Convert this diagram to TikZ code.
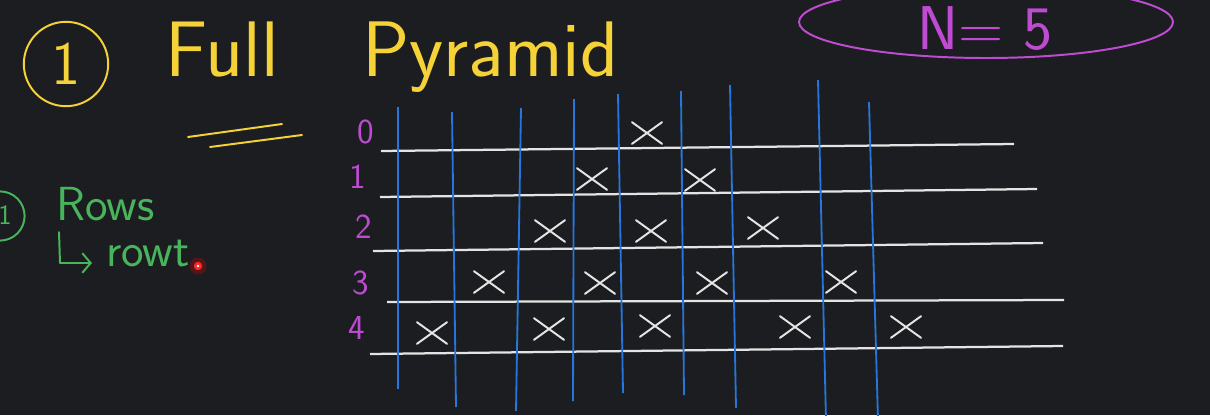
\documentclass[tikz,border=0pt]{standalone}
\usepackage{tikz}
\usetikzlibrary{arrows.meta,shapes.geometric,shapes.misc}

\definecolor{board}{RGB}{28,29,32}
\definecolor{chalkyellow}{RGB}{245,210,55}
\definecolor{chalkpurple}{RGB}{190,75,210}
\definecolor{chalkgreen}{RGB}{72,180,92}
\definecolor{chalkblue}{RGB}{38,118,222}
\definecolor{chalkwhite}{RGB}{228,228,228}

\tikzset{
  ink/.style={line width=1.4pt,line cap=round,line join=round},
  title/.style={text=chalkyellow,font=\sffamily\fontsize{56}{60}\selectfont,inner sep=0pt,anchor=base west},
  rowlabel/.style={text=chalkpurple,font=\sffamily\fontsize{25}{27}\selectfont,inner sep=0pt},
  note/.style={text=chalkgreen,font=\sffamily\fontsize{34}{38}\selectfont,inner sep=0pt,anchor=base west},
  crossmark/.style={cross out,draw=chalkwhite,ink,minimum width=20pt,minimum height=14pt,inner sep=0pt},
  rule/.style={draw=chalkwhite,line width=1.6pt},
  column/.style={draw=chalkblue,line width=1.3pt},
}

\begin{document}
\begin{tikzpicture}[x=0.025cm,y=-0.025cm]
  \path[use as bounding box,fill=board] (0,0) rectangle (1210,415);
  \node[draw=chalkyellow,ink,circle,minimum size=60pt,inner sep=0pt,text=chalkyellow,
        font=\sffamily\fontsize{44}{48}\selectfont] (titlenum) at (66,64) {1};
  \node[title] (full) at (165,76) {Full};
  \node[title] (pyramid) at (362,76) {Pyramid};
  \draw[chalkyellow,ink] (188,137) -- (282,124);
  \draw[chalkyellow,ink] (210,147) -- (302,135);
  \draw[chalkpurple,ink] (986,22) ellipse [x radius=187,y radius=36];
  \node[text=chalkpurple,font=\sffamily\fontsize{44}{48}\selectfont,inner sep=0pt] (count) at (985,29) {N= 5};
  \foreach \r/\px/\py in {0/366/132,1/358/177,2/364/227,3/361/283,4/357/328}{
    \node[rowlabel] (row\r) at (\px,\py) {\r};
  }
  \foreach \xa/\ya/\xb/\yb in {381/151/1014/144,380/197/1037/189,373/251/1043/243,387/302/1064/300,370/354/1063/346}{
    \draw[rule] (\xa,\ya) -- (\xb,\yb);
  }
  \foreach \xa/\ya/\xb/\yb in {398/107/398/389,452/112/456/407,521/108/516/411,574/99/573/401,618/94/623/393,
                               681/91/684/395,730/85/736/408,818/80/826/420,869/102/878/420}{
    \draw[column] (\xa,\ya) -- (\xb,\yb);
  }
  \foreach \name/\px/\py in {0-1/647/133,
                             1-1/592/179,1-2/700/180,
                             2-1/550/231,2-2/651/231,2-3/763/228,
                             3-1/489/282,3-2/600/283,3-3/712/283,3-4/841/282,
                             4-1/432/333,4-2/549/329,4-3/655/326,4-4/795/327,4-5/906/327}{
    \node[crossmark] (x\name) at (\px,\py) {};
  }
  \node[draw=chalkgreen,ink,circle,minimum size=35pt,inner sep=0pt] (stepring) at (0,216) {};
  \node[text=chalkgreen,font=\sffamily\fontsize{20}{22}\selectfont,inner sep=0pt] (stepnum) at (5,215) {1};
  \node[note] (rows) at (56,220) {Rows};
  \coordinate (hooktop) at (59,232);
  \coordinate (hookbend) at (60,263);
  \coordinate (hookend) at (92,263);
  \draw[chalkgreen,ink,-{Straight Barb[length=6pt,width=14pt]}] (hooktop) -- (hookbend) -- (hookend);
  \node[note] (rowt) at (106,266) {rowt};
  \fill[red,opacity=0.25] (198,266) circle (6pt);
  \fill[red!85!white] (198,266) circle (3pt);
  \fill[white] (198,266) circle (1pt);
\end{tikzpicture}
\end{document}
